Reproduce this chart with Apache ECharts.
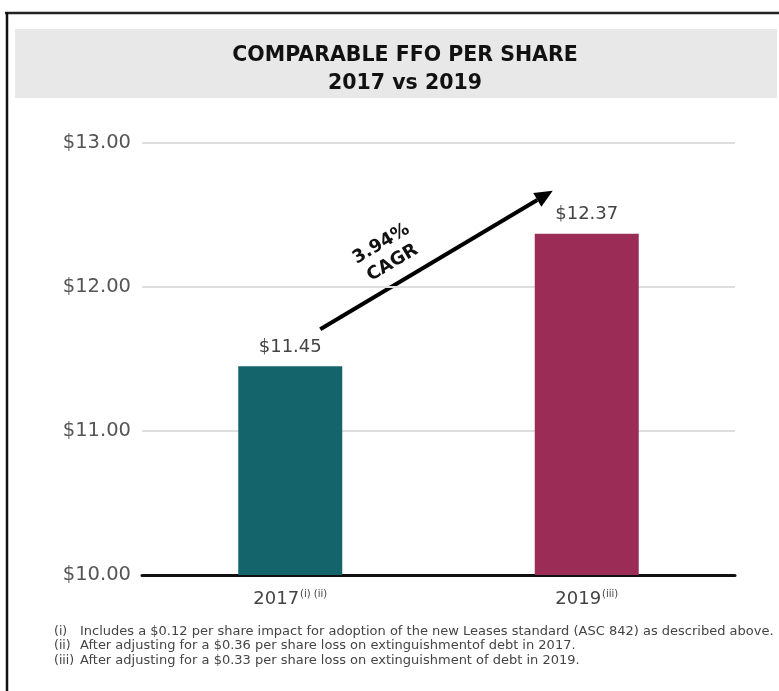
<!DOCTYPE html>
<html><head><meta charset="utf-8">
<script src="https://cdn.jsdelivr.net/npm/echarts@6/dist/echarts.min.js"></script>
<style>html,body{margin:0;padding:0;background:#fff}#c{width:779px;height:691px}</style>
</head><body><div id="c"></div>
<script>
const titleLines = ['COMPARABLE FFO PER SHARE', '2017 vs 2019'];
const categories = ['2017', '2019'];
const categorySup = ['(i) (ii)', '(iii)'];
const values = [11.45, 12.37];
const barColors = ['#13646b', '#9a2c55'];
const yTicks = [10, 11, 12, 13];
const cagrText = ['3.94%', 'CAGR'];
const footMarks = ['(i)', '(ii)', '(iii)'];
const footTexts = [
  'Includes a $0.12 per share impact for adoption of the new Leases standard (ASC 842) as described above.',
  'After adjusting for a $0.36 per share loss on extinguishmentof debt in 2017.',
  'After adjusting for a $0.33 per share loss on extinguishment of debt in 2019.'
];

const chart = echarts.init(document.getElementById('c'), null, {renderer: 'canvas'});
const FONT = '"DejaVu Sans", sans-serif';

const footGraphics = [];
footMarks.forEach((m, i) => {
  footGraphics.push({type: 'text', left: 54, top: 625 + i * 14.5,
    style: {text: m, font: '12.5px ' + FONT, fill: '#444'}});
  footGraphics.push({type: 'text', left: 80, top: 625 + i * 14.5,
    style: {text: footTexts[i], font: '13px ' + FONT, fill: '#444'}});
});

const option = {
  animation: false,
  backgroundColor: '#fff',
  title: {
    text: titleLines.join('\n'),
    left: 400, top: 37, textAlign: 'center',
    textStyle: {fontFamily: FONT, fontSize: 20.5, fontWeight: 'bold', color: '#111', lineHeight: 28}
  },
  grid: {left: 142, right: 44, top: 143, bottom: 116},
  xAxis: {
    type: 'category', data: categories,
    axisLine: {lineStyle: {color: '#111', width: 3}},
    axisTick: {show: false},
    axisLabel: {
      margin: 14,
      formatter: (v, i) => v + '{s|' + categorySup[i] + '}',
      fontFamily: FONT, fontSize: 18, color: '#444',
      rich: {s: {fontSize: 10, color: '#444', verticalAlign: 'top', padding: [0, 0, 10, 1], fontFamily: FONT}}
    }
  },
  yAxis: {
    type: 'value', min: yTicks[0], max: yTicks[yTicks.length - 1], interval: 1,
    axisLine: {show: false}, axisTick: {show: false},
    axisLabel: {margin: 11, formatter: v => '$' + v.toFixed(2), fontFamily: FONT, fontSize: 19.5, color: '#555'},
    splitLine: {lineStyle: {color: '#dedede', width: 2}}
  },
  series: [{
    type: 'bar', barWidth: 104,
    data: values.map((v, i) => ({value: v, itemStyle: {color: barColors[i]}})),
    label: {show: true, position: 'top', distance: 10, formatter: p => '$' + p.value.toFixed(2),
      fontFamily: FONT, fontSize: 18, color: '#444'}
  }],
  graphic: [
    {type: 'rect', z: -10, shape: {x: 15, y: 29, width: 762, height: 69}, style: {fill: '#e8e8e8'}},
    {type: 'line', shape: {x1: 5, y1: 13, x2: 779, y2: 13}, style: {stroke: '#222', lineWidth: 2.5}},
    {type: 'line', shape: {x1: 7, y1: 12, x2: 7, y2: 691}, style: {stroke: '#111', lineWidth: 2.5}}
  ].concat(footGraphics)
};
chart.setOption(option);

// CAGR arrow anchored to the bars' data positions
const p1 = chart.convertToPixel({gridIndex: 0}, [0, values[0]]);
const p2 = chart.convertToPixel({gridIndex: 0}, [1, values[1]]);
const sx = p1[0] + 30, sy = p1[1] - 37;
const ex = p2[0] - 34, ey = p2[1] - 43;
const ang = Math.atan2(ey - sy, ex - sx);
const dx = Math.cos(ang), dy = Math.sin(ang);
const headLen = 18, headW = 8;
const bx = ex - headLen * dx, by = ey - headLen * dy;
const nx = -dy, ny = dx;
const t = 0.355, off = 31;
const fx = sx + (ex - sx) * t, fy = sy + (ey - sy) * t;
const tx = fx + dy * off, ty = fy - dx * off;
chart.setOption({graphic: option.graphic.concat([
  {type: 'line', shape: {x1: sx, y1: sy, x2: bx, y2: by}, style: {stroke: '#000', lineWidth: 4}},
  {type: 'polygon', shape: {points: [[ex, ey], [bx + nx * headW, by + ny * headW], [bx - nx * headW, by - ny * headW]]}, style: {fill: '#000'}},
  {type: 'text', x: tx, y: ty, rotation: -ang,
    style: {text: cagrText.join('\n'), font: 'bold 18px ' + FONT, fill: '#111', align: 'center', verticalAlign: 'middle', lineHeight: 22}}
])});
</script></body></html>
